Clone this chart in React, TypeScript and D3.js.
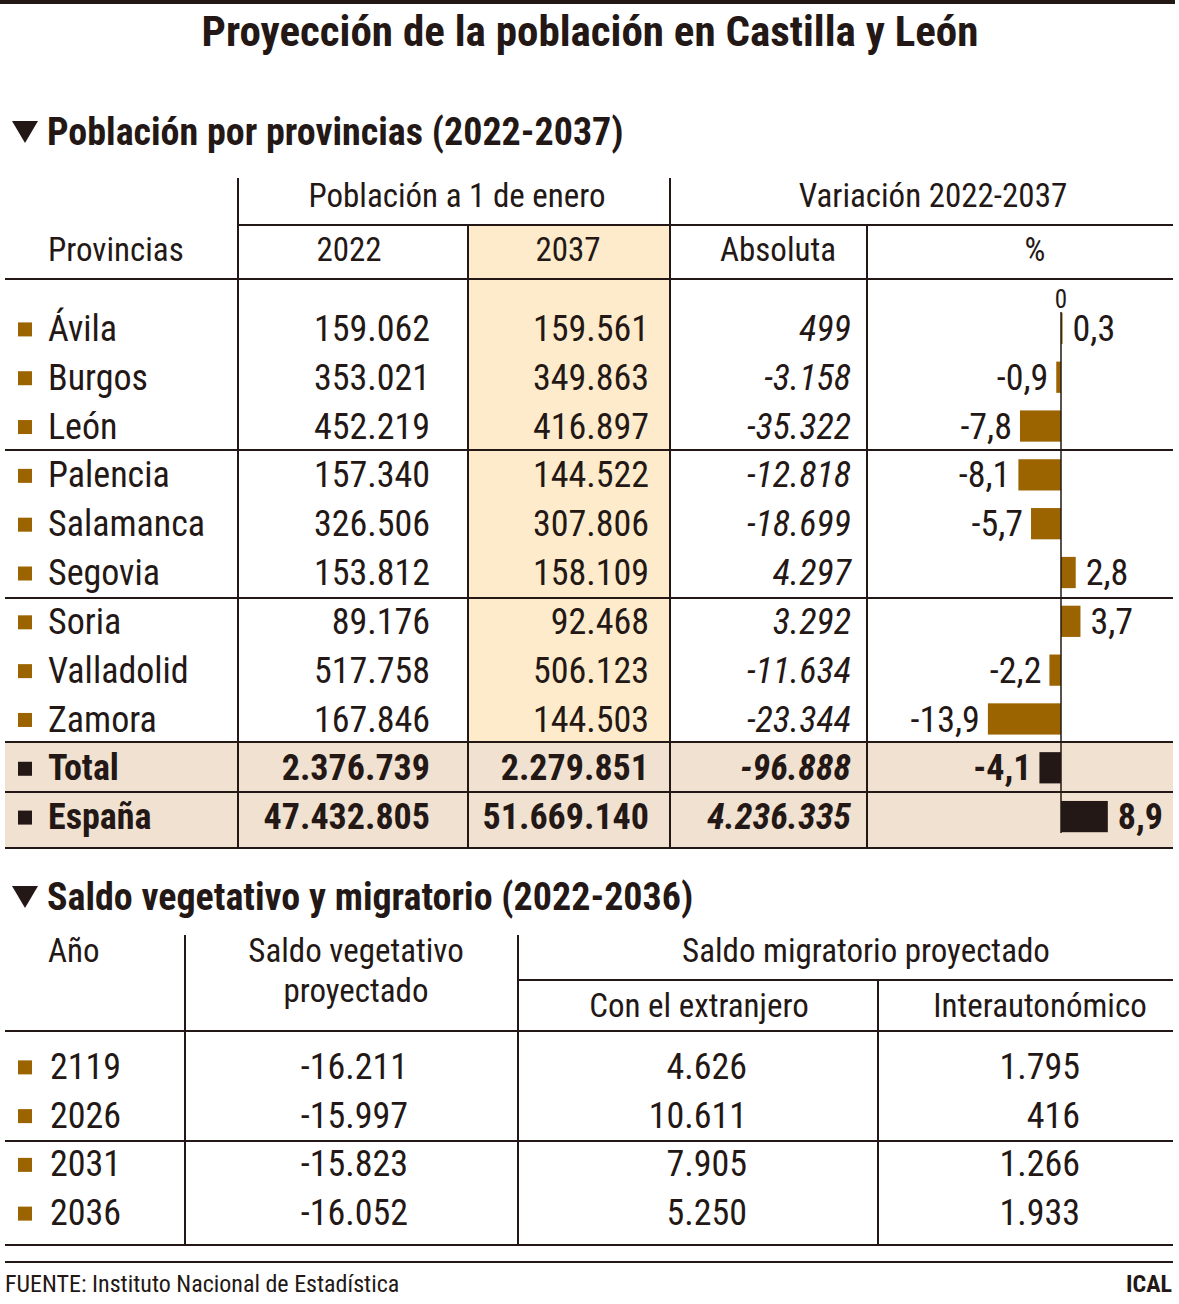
import React from "react";
import * as d3 from "d3";

const provinces = ["Ávila", "Burgos", "León", "Palencia", "Salamanca", "Segovia", "Soria", "Valladolid", "Zamora", "Total", "España"];
const pop2022 = ["159.062", "353.021", "452.219", "157.340", "326.506", "153.812", "89.176", "517.758", "167.846", "2.376.739", "47.432.805"];
const pop2037 = ["159.561", "349.863", "416.897", "144.522", "307.806", "158.109", "92.468", "506.123", "144.503", "2.279.851", "51.669.140"];
const absVar = ["499", "-3.158", "-35.322", "-12.818", "-18.699", "4.297", "3.292", "-11.634", "-23.344", "-96.888", "4.236.335"];
const pctVar = [0.3, -0.9, -7.8, -8.1, -5.7, 2.8, 3.7, -2.2, -13.9, -4.1, 8.9];

const years = ["2119", "2026", "2031", "2036"];
const vegetativo = ["-16.211", "-15.997", "-15.823", "-16.052"];
const extranjero = ["4.626", "10.611", "7.905", "5.250"];
const interauto = ["1.795", "416", "1.266", "1.933"];

const FONT = "'Liberation Sans Narrow', 'Arial Narrow', 'Roboto Condensed', 'Liberation Sans', sans-serif";
const INK = "#231815";
const BROWN = "#9c6400";
const HIGHLIGHT = "#fdebcc";
const TOTALBG = "#f1e1d0";

const fmtPct = (v: number) => v.toFixed(1).replace(".", ",");

export default function App() {
  const W = 1179, H = 1304;
  const L = 5, R = 1173;

  const y = d3.scaleBand<string>().domain(provinces).range([304, 841]).paddingInner(0.36).paddingOuter(0.18);
  const rowC = (p: string) => (y(p) as number) + y.bandwidth() / 2;
  const x = d3.scaleLinear().domain([-14, 9]).range([1061 - 14 * 5.26, 1061 + 9 * 5.26]);

  const y2 = d3.scaleBand<string>().domain(years).range([1042, 1237]);
  const rowC2 = (p: string) => (y2(p) as number) + y2.bandwidth() / 2;

  const fs = 36;
  const hs = 33;
  const line = { stroke: INK, strokeWidth: 2 };
  const tri = (tx: number, ty: number) => `M${tx},${ty} L${tx + 26},${ty} L${tx + 13},${ty + 22} Z`;

  return (
    <svg width={W} height={H} style={{ position: "absolute", left: 0, top: 0, background: "#fff" }} fontFamily={FONT} fill={INK}>
      <rect x={0} y={0} width={1175} height={4} fill={INK} />
      <text x={590} y={46} textAnchor="middle" fontSize={43} fontWeight="bold">Proyección de la población en Castilla y León</text>

      <path d={tri(12, 121)} fill={INK} />
      <text x={47} y={145} fontSize={38} fontWeight="bold">Población por provincias (2022-2037)</text>

      {/* backgrounds */}
      <rect x={468} y={226} width={202} height={516} fill={HIGHLIGHT} />
      <rect x={L} y={742} width={R - L} height={106} fill={TOTALBG} />

      {/* header texts */}
      <text x={457} y={195} dy="0.35em" textAnchor="middle" fontSize={hs}>Población a 1 de enero</text>
      <text x={933} y={195} dy="0.35em" textAnchor="middle" fontSize={hs}>Variación 2022-2037</text>
      <text x={48} y={249} dy="0.35em" fontSize={hs}>Provincias</text>
      <text x={349} y={249} dy="0.35em" textAnchor="middle" fontSize={hs}>2022</text>
      <text x={568} y={249} dy="0.35em" textAnchor="middle" fontSize={hs}>2037</text>
      <text x={778} y={249} dy="0.35em" textAnchor="middle" fontSize={hs}>Absoluta</text>
      <text x={1035} y={249} dy="0.35em" textAnchor="middle" fontSize={hs}>%</text>

      {/* grid lines */}
      <line x1={238} x2={R} y1={225} y2={225} {...line} />
      <line x1={L} x2={R} y1={279} y2={279} {...line} />
      <line x1={L} x2={R} y1={450} y2={450} {...line} />
      <line x1={L} x2={R} y1={598} y2={598} {...line} />
      <line x1={L} x2={R} y1={742} y2={742} {...line} />
      <line x1={L} x2={R} y1={792} y2={792} {...line} />
      <line x1={L} x2={R} y1={848} y2={848} {...line} />
      <line x1={238} x2={238} y1={178} y2={848} {...line} />
      <line x1={468} x2={468} y1={226} y2={848} {...line} />
      <line x1={670} x2={670} y1={178} y2={848} {...line} />
      <line x1={867} x2={867} y1={226} y2={848} {...line} />

      {/* rows */}
      {provinces.map((p, i) => {
        const bold = i >= 9;
        const c = rowC(p);
        const color = bold ? INK : BROWN;
        const v = pctVar[i];
        const x0 = x(Math.min(0, v));
        const x1 = x(Math.max(0, v));
        return (
          <g key={p} fontWeight={bold ? "bold" : "normal"}>
            <rect x={18} y={c - 6} width={14} height={14} fill={color} />
            <text x={48} y={c} dy="0.35em" fontSize={fs}>{p}</text>
            <text x={430} y={c} dy="0.35em" fontSize={fs} textAnchor="end">{pop2022[i]}</text>
            <text x={649} y={c} dy="0.35em" fontSize={fs} textAnchor="end">{pop2037[i]}</text>
            <text x={851} y={c} dy="0.35em" fontSize={fs} textAnchor="end" fontStyle="italic">{absVar[i]}</text>
            <rect x={x0} y={y(p)} width={Math.max(1.5, x1 - x0)} height={y.bandwidth()} fill={color} />
            <text x={v >= 0 ? x1 + 10 : x0 - 8} y={c} dy="0.35em" fontSize={fs} textAnchor={v >= 0 ? "start" : "end"}>{fmtPct(v)}</text>
          </g>
        );
      })}
      <line x1={x(0)} x2={x(0)} y1={312} y2={833} stroke={INK} strokeWidth={1.5} />
      <text x={x(0)} y={299} dy="0.35em" textAnchor="middle" fontSize={25}>{0}</text>

      {/* section 2 */}
      <path d={tri(12, 886)} fill={INK} />
      <text x={47} y={910} fontSize={38} fontWeight="bold">Saldo vegetativo y migratorio (2022-2036)</text>
      <text x={48} y={950} dy="0.35em" fontSize={hs}>Año</text>
      <text x={356} y={950} dy="0.35em" textAnchor="middle" fontSize={hs}>Saldo vegetativo</text>
      <text x={356} y={990} dy="0.35em" textAnchor="middle" fontSize={hs}>proyectado</text>
      <text x={866} y={950} dy="0.35em" textAnchor="middle" fontSize={hs}>Saldo migratorio proyectado</text>
      <text x={699} y={1005} dy="0.35em" textAnchor="middle" fontSize={hs}>Con el extranjero</text>
      <text x={1040} y={1005} dy="0.35em" textAnchor="middle" fontSize={hs}>Interautonómico</text>

      <line x1={518} x2={R} y1={980} y2={980} {...line} />
      <line x1={L} x2={R} y1={1031} y2={1031} {...line} />
      <line x1={L} x2={R} y1={1141} y2={1141} {...line} />
      <line x1={L} x2={R} y1={1245} y2={1245} {...line} />
      <line x1={L} x2={R} y1={1262} y2={1262} {...line} />
      <line x1={185} x2={185} y1={935} y2={1245} {...line} />
      <line x1={518} x2={518} y1={935} y2={1245} {...line} />
      <line x1={878} x2={878} y1={980} y2={1245} {...line} />

      {years.map((yr, i) => {
        const c = rowC2(yr);
        return (
          <g key={yr}>
            <rect x={18} y={c - 6} width={14} height={14} fill={BROWN} />
            <text x={50} y={c} dy="0.35em" fontSize={fs}>{yr}</text>
            <text x={408} y={c} dy="0.35em" fontSize={fs} textAnchor="end">{vegetativo[i]}</text>
            <text x={747} y={c} dy="0.35em" fontSize={fs} textAnchor="end">{extranjero[i]}</text>
            <text x={1080} y={c} dy="0.35em" fontSize={fs} textAnchor="end">{interauto[i]}</text>
          </g>
        );
      })}

      <text x={5} y={1292} fontSize={24}>FUENTE: Instituto Nacional de Estadística</text>
      <text x={1172} y={1292} fontSize={24} fontWeight="bold" textAnchor="end">ICAL</text>
    </svg>
  );
}
